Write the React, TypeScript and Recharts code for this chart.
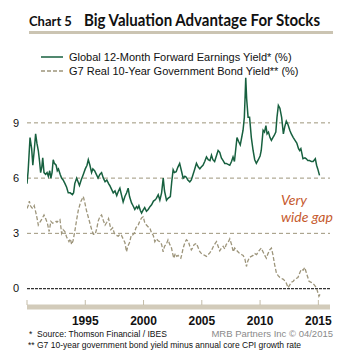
import React from "react";
import { LineChart, Line, XAxis, YAxis, ReferenceLine } from "recharts";

const earnYears = [
  1990.0, 1990.1, 1990.26, 1990.4, 1990.5, 1990.62, 1990.74, 1990.85, 1990.97, 1991.08, 1991.17, 1991.27,
  1991.35, 1991.46, 1991.6, 1991.72, 1991.83, 1991.95, 1992.05, 1992.15, 1992.25, 1992.35, 1992.5, 1992.6,
  1992.7, 1992.85, 1992.97, 1993.1, 1993.26, 1993.4, 1993.54, 1993.7, 1993.9, 1994.0, 1994.1, 1994.26,
  1994.38, 1994.5, 1994.65, 1994.83, 1995.0, 1995.15, 1995.26, 1995.4, 1995.54, 1995.65, 1995.8, 1995.95,
  1996.1, 1996.25, 1996.4, 1996.55, 1996.7, 1996.85, 1997.0, 1997.1, 1997.25, 1997.4, 1997.55, 1997.7,
  1997.85, 1997.97, 1998.1, 1998.25, 1998.4, 1998.55, 1998.68, 1998.8, 1998.97, 1999.1, 1999.25, 1999.4,
  1999.5, 1999.6, 1999.72, 1999.83, 1999.95, 2000.1, 2000.25, 2000.4, 2000.55, 2000.69, 2000.85, 2000.97,
  2001.1, 2001.26, 2001.4, 2001.55, 2001.69, 2001.8, 2001.97, 2002.1, 2002.3, 2002.42, 2002.54, 2002.65,
  2002.8, 2002.95, 2003.1, 2003.25, 2003.4, 2003.55, 2003.67, 2003.8, 2003.97, 2004.1, 2004.2, 2004.35,
  2004.54, 2004.7, 2004.83, 2004.95, 2005.1, 2005.25, 2005.4, 2005.55, 2005.7, 2005.83, 2005.95, 2006.1,
  2006.25, 2006.4, 2006.54, 2006.68, 2006.83, 2006.97, 2007.1, 2007.25, 2007.4, 2007.55, 2007.68, 2007.8,
  2007.9, 2008.02, 2008.15, 2008.3, 2008.45, 2008.54, 2008.65, 2008.72, 2008.77, 2008.85, 2008.97, 2009.1,
  2009.25, 2009.4, 2009.54, 2009.68, 2009.85, 2010.0, 2010.1, 2010.26, 2010.38, 2010.5, 2010.6, 2010.72,
  2010.85, 2010.97, 2011.1, 2011.2, 2011.35, 2011.45, 2011.57, 2011.7, 2011.85, 2012.0, 2012.12, 2012.25,
  2012.4, 2012.55, 2012.68, 2012.85, 2013.0, 2013.15, 2013.3, 2013.4, 2013.5, 2013.6, 2013.68, 2013.85,
  2013.97, 2014.1, 2014.25, 2014.4, 2014.55, 2014.74, 2014.85, 2014.95, 2015.1,
];
const earnYield = [
  5.7, 6.4, 8.2, 7.6, 6.7, 7.5, 8.4, 7.9, 7.5, 6.9, 6.3, 6.6,
  7.1, 6.3, 6.2, 6.3, 6.1, 6.4, 6.0, 6.3, 7.0, 6.8, 6.7, 6.4,
  6.5, 6.2, 6.0, 5.9, 5.7, 5.5, 5.2, 5.2, 5.1, 5.2, 5.7, 6.0,
  5.8, 5.6, 5.9, 6.2, 6.5, 6.7, 7.0, 6.7, 6.3, 6.5, 6.4, 6.2,
  6.0, 6.2, 6.3, 6.0, 5.8, 5.9, 5.7, 5.6, 5.4, 5.2, 5.3, 5.05,
  5.3, 5.45, 5.1, 4.7, 5.0, 5.2, 5.45, 5.0, 4.65, 4.5, 4.3, 4.45,
  4.35, 4.5, 4.25, 4.1, 4.25, 4.4, 4.2, 4.3, 4.45, 4.55, 4.75, 4.8,
  4.9, 5.1, 4.8, 5.2, 6.0, 5.3, 4.8, 4.9, 5.0, 5.8, 6.45, 6.3,
  6.35, 6.6, 6.8, 6.4, 6.0, 6.1, 6.05, 5.9, 5.8, 5.9, 6.1, 6.4,
  6.8, 6.6, 6.5, 6.6, 6.7, 6.9, 7.15, 7.0, 6.95, 7.25, 7.0, 6.9,
  7.2, 7.5, 7.4, 7.1, 6.95, 6.8, 6.8, 6.75, 6.7, 6.9, 7.15, 6.9,
  7.5, 8.2, 8.0, 7.8, 8.3, 8.6, 9.3, 10.5, 11.45, 10.3, 9.3, 9.3,
  8.2, 7.5, 7.0, 6.8, 7.0, 7.2, 7.5, 8.6, 8.5, 8.85, 8.4, 8.5,
  8.2, 8.05, 8.2, 8.3, 8.5, 9.3, 9.95, 9.8, 9.3, 8.4, 8.8, 9.1,
  8.9, 8.6, 8.4, 8.2, 8.05, 7.9, 7.6, 7.5, 7.6, 7.3, 7.05, 7.1,
  7.05, 6.95, 6.95, 6.9, 6.9, 7.05, 6.7, 6.5, 6.15,
];

const bondYears = [
  1990.0, 1990.1, 1990.2, 1990.3, 1990.4, 1990.5, 1990.62, 1990.77, 1990.87, 1990.97, 1991.1, 1991.3,
  1991.46, 1991.6, 1991.75, 1991.9, 1992.05, 1992.2, 1992.35, 1992.5, 1992.57, 1992.7, 1992.83, 1992.97,
  1993.1, 1993.25, 1993.4, 1993.6, 1993.72, 1993.83, 1993.95, 1994.1, 1994.25, 1994.4, 1994.6, 1994.83,
  1994.95, 1995.1, 1995.25, 1995.4, 1995.55, 1995.7, 1995.85, 1996.0, 1996.1, 1996.25, 1996.4, 1996.55,
  1996.7, 1996.85, 1997.0, 1997.1, 1997.2, 1997.35, 1997.5, 1997.65, 1997.83, 1997.97, 1998.1, 1998.25,
  1998.4, 1998.54, 1998.65, 1998.8, 1998.95, 1999.05, 1999.2, 1999.35, 1999.54, 1999.7, 1999.85, 1999.97,
  2000.1, 2000.25, 2000.4, 2000.54, 2000.7, 2000.83, 2000.97, 2001.1, 2001.25, 2001.4, 2001.55, 2001.68,
  2001.8, 2001.95, 2002.1, 2002.25, 2002.4, 2002.5, 2002.6, 2002.72, 2002.85, 2002.97, 2003.1, 2003.2,
  2003.3, 2003.4, 2003.55, 2003.68, 2003.85, 2003.97, 2004.1, 2004.2, 2004.35, 2004.54, 2004.7, 2004.83,
  2004.97, 2005.1, 2005.25, 2005.4, 2005.55, 2005.7, 2005.85, 2006.0, 2006.15, 2006.26, 2006.4, 2006.54,
  2006.68, 2006.83, 2006.97, 2007.1, 2007.25, 2007.4, 2007.55, 2007.7, 2007.82, 2007.95, 2008.1, 2008.25,
  2008.4, 2008.55, 2008.7, 2008.83, 2008.95, 2009.1, 2009.25, 2009.4, 2009.55, 2009.7, 2009.9, 2010.1,
  2010.25, 2010.4, 2010.54, 2010.68, 2010.83, 2010.97, 2011.1, 2011.25, 2011.4, 2011.55, 2011.7, 2011.85,
  2012.0, 2012.15, 2012.25, 2012.4, 2012.55, 2012.7, 2012.85, 2012.97, 2013.1, 2013.25, 2013.4, 2013.54,
  2013.7, 2013.83, 2013.95, 2014.05, 2014.2, 2014.35, 2014.5, 2014.65, 2014.83, 2014.95, 2015.05, 2015.15,
];
const bondYield = [
  4.35, 4.5, 4.75, 4.5, 4.4, 4.35, 4.5, 4.1, 3.8, 3.45, 3.6, 3.8,
  4.0, 3.8, 3.55, 3.1, 3.65, 3.55, 3.6, 3.65, 3.6, 3.7, 3.75, 3.0,
  3.2, 3.1, 2.8, 2.55, 2.7, 2.4, 2.6, 3.1, 3.7, 4.25, 4.7, 5.0,
  4.7, 4.25, 3.9, 3.55, 3.2, 2.95, 2.95, 3.3, 3.65, 3.9, 4.0, 3.7,
  3.45, 3.6, 3.8, 3.5, 3.2, 3.3, 3.0, 2.9, 2.85, 2.95, 2.9, 2.7,
  2.5, 2.0, 2.3, 2.5, 2.9, 2.9, 3.0, 3.3, 3.45, 3.7, 3.85, 3.9,
  3.6, 3.45, 3.35, 3.3, 3.0, 2.9, 2.55, 2.7, 2.6, 2.55, 2.4, 2.0,
  2.3, 2.4, 2.65, 2.4, 2.2, 1.9, 1.65, 1.9, 1.75, 1.8, 1.7, 1.65,
  1.9, 2.2, 2.5, 2.65, 2.55, 2.3, 2.1, 2.2, 2.4, 2.45, 2.2, 2.0,
  1.9, 1.85, 1.8, 1.75, 1.85, 1.95, 2.1, 2.3, 2.45, 2.55, 2.3, 2.05,
  2.2, 2.3, 2.15, 2.4, 2.5, 2.7, 2.4, 2.0, 2.2, 2.1, 2.0, 1.9,
  1.85, 1.8, 1.6, 1.2, 1.5, 1.7, 1.75, 1.8, 1.9, 1.85, 2.05, 2.2,
  2.0, 1.8, 1.65, 1.9, 2.1, 2.2, 1.85, 1.3, 0.85, 0.7, 0.6, 0.55,
  0.5, 0.4, 0.3, 0.05, 0.2, 0.35, 0.4, 0.5, 0.55, 0.6, 0.85, 1.05,
  1.0, 1.15, 0.9, 0.7, 0.4, 0.35, 0.3, 0.2, 0.05, -0.2, -0.42, -0.3,
];

const yearTicks = [1990, 1995, 2000, 2005, 2010, 2015];
const yTicks = [0, 3, 6, 9];
const gridLevels = [3, 6, 9];

const earnData = earnYears.map((year, i) => ({ year, value: earnYield[i] }));
const bondData = bondYears.map((year, i) => ({ year, value: bondYield[i] }));

const GREEN = "#17603f";
const TAN = "#9d957b";
const sans = "'Liberation Sans', Arial, sans-serif";
const calibri = "Lato, 'Open Sans', sans-serif";

// tick y arrives below the axis line (axis y + tick size + margin)
const YearTick = (props: any) => {
  const { x, y, payload } = props;
  return (
    <g>
      <line x1={x} x2={x} y1={y - 15} y2={y - 10} stroke="#c4bca8" strokeWidth={1} />
      {payload.value !== 1990 && (
        <text x={x} y={y + 10} textAnchor="middle" fontSize={12} fontWeight="bold" fill="#111" fontFamily={sans}>
          {payload.value}
        </text>
      )}
    </g>
  );
};

export default function App() {
  return (
    <div style={{ position: "absolute", left: 0, top: 0, width: 356, height: 360, background: "#fff", overflow: "hidden" }}>
      <svg style={{ position: "absolute", left: 0, top: 0 }} width={356} height={80}>
        <text x={29} y={26} fontFamily={calibri} fontWeight={700} fontSize={13} fill="#111">
          Chart 5
        </text>
        <text x={84} y={26} fontFamily={calibri} fontWeight={700} fontSize={17} fill="#111" textLength={236} lengthAdjust="spacingAndGlyphs">
          Big Valuation Advantage For Stocks
        </text>
        <rect x={29} y={31} width={304} height={3} fill="#cbc4b2" />
        <line x1={41} x2={63} y1={57} y2={57} stroke={GREEN} strokeWidth={1.5} />
        <line x1={41} x2={63} y1={71} y2={71} stroke={TAN} strokeWidth={1.3} strokeDasharray="4 2" />
        <text x={69} y={61} fontSize={11} fontFamily={sans} fill="#111">
          Global 12-Month Forward Earnings Yield* (%)
        </text>
        <text x={69} y={75} fontSize={11} fontFamily={sans} fill="#111">
          G7 Real 10-Year Government Bond Yield** (%)
        </text>
      </svg>

      <div style={{ position: "absolute", left: 0, top: 0 }}>
        <LineChart width={356} height={360} margin={{ top: 75, right: 26, bottom: 23, left: 7 }}>
          <XAxis
            dataKey="year"
            type="number"
            domain={[1990, 2016]}
            ticks={yearTicks}
            height={30}
            axisLine={{ stroke: "#d2cbba", strokeWidth: 5 }}
            tickLine={false}
            tick={<YearTick />}
            allowDataOverflow
          />
          <YAxis
            type="number"
            domain={[-1, 11.6]}
            ticks={yTicks}
            width={20}
            axisLine={false}
            tickLine={false}
            tick={{ fontSize: 11, fill: "#111", fontFamily: sans }}
            allowDataOverflow
          />
          {gridLevels.map((v) => (
            <ReferenceLine key={v} y={v} stroke={TAN} strokeWidth={1} strokeDasharray="4 3" />
          ))}
          <ReferenceLine y={0} stroke="#333" strokeWidth={1.2} strokeDasharray="3 1" />
          <Line data={bondData} dataKey="value" type="linear" stroke={TAN} strokeWidth={1.3} strokeDasharray="4 2" dot={false} isAnimationActive={false} />
          <Line data={earnData} dataKey="value" type="linear" stroke={GREEN} strokeWidth={1.5} dot={false} isAnimationActive={false} />
        </LineChart>
      </div>

      <div style={{ position: "absolute", left: 281, top: 191, fontFamily: calibri, fontStyle: "italic", fontSize: 14, color: "#c65a2e", lineHeight: "17px" }}>
        Very
        <br />
        wide gap
      </div>

      <div style={{ position: "absolute", left: 29, top: 329, fontFamily: sans, fontSize: 8.5, color: "#111" }}>
        *&nbsp;&nbsp;Source: Thomson Financial / IBES
      </div>
      <div style={{ position: "absolute", right: 23, top: 328, fontFamily: sans, fontSize: 9.5, color: "#8a8a8a" }}>
        MRB Partners Inc © 04/2015
      </div>
      <div style={{ position: "absolute", left: 28, top: 340, fontFamily: sans, fontSize: 8.5, color: "#111" }}>
        ** G7 10-year government bond yield minus annual core CPI growth rate
      </div>
    </div>
  );
}
